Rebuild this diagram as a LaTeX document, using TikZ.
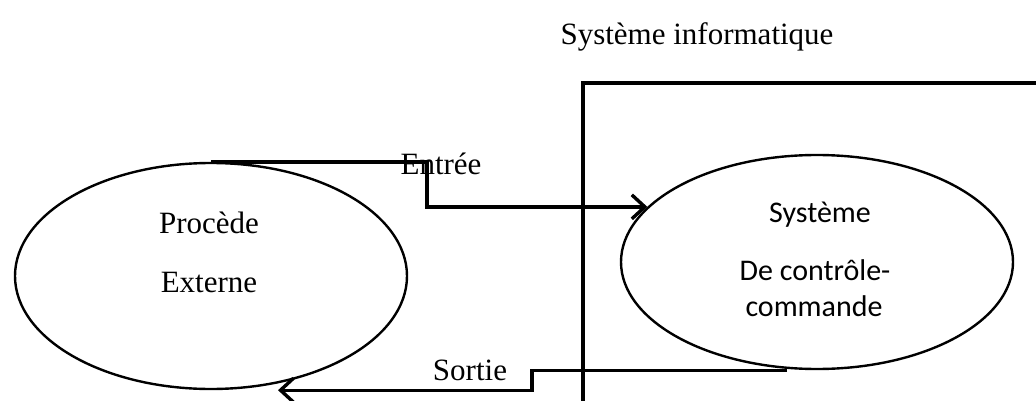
\documentclass[tikz,border=0pt]{standalone}
\usepackage{fontspec}
\setmainfont{Liberation Serif}
\newfontfamily\sysfont{Carlito}
\usetikzlibrary{shapes.geometric,arrows.meta}
\begin{document}
\begin{tikzpicture}[x=1pt,y=-1pt,
  blob/.style={draw,ellipse,line width=2.4pt,inner sep=0pt},
  conn/.style={line width=3.4pt,-{Straight Barb[length=13pt,width=24pt,line width=3.4pt]}},
  frame/.style={line width=3.2pt},
  lbl/.style={anchor=base,inner sep=0pt,font=\fontsize{31}{36}\selectfont},
  slbl/.style={anchor=base,inner sep=0pt,font=\sysfont\fontsize{30}{36}\selectfont}]
\useasboundingbox (0,0) rectangle (1036,401);

% the two processes
\node[blob,minimum width=392pt,minimum height=226pt] (L) at (211,276) {};
\node[blob,minimum width=392pt,minimum height=214pt] (R) at (817,262) {};

\node[lbl] (l1) at (209,233) {Procède};
\node[lbl] (l2) at (209,292) {Externe};
\node[slbl] (r1) at (820,222) {Système};
\node[slbl] (r2) at (815,280) {De contrôle-};
\node[slbl] (r3) at (814,316) {commande};

% computer system frame
\coordinate (fb) at (583,401);
\coordinate (fc) at (583,83);
\coordinate (fr) at (1036,83);
\draw[frame] (fb) -- (fc) -- (fr);
\node[lbl] (title) at (697,45) {Système informatique};

% input and output flows
\draw[conn] (L.north) -| (427,190) |- (R.162);
\draw[conn] ([xshift=-30pt]R.south) -| (532,380) |- ([xshift=67pt]L.south);
\node[lbl] (ein) at (441,175) {Entrée};
\node[lbl] (eout) at (470,380) {Sortie};
\end{tikzpicture}
\end{document}
